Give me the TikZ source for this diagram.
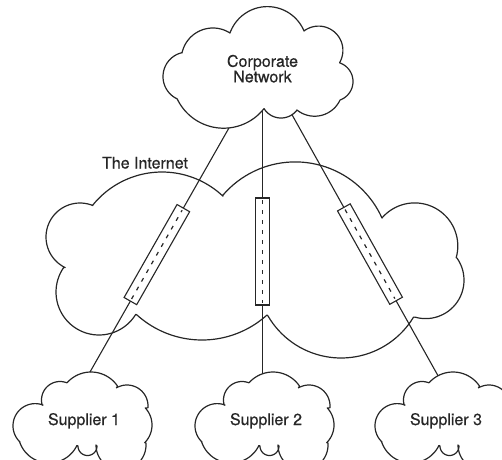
\documentclass[tikz,border=0pt]{standalone}
\usepackage{fontspec}
\setmainfont{TeX Gyre Heros}[FakeBold=0.5]

% one circular lobe of a cloud outline: centre (#1,#2), radius #3, from angle #4 to #5
\newcommand\lobe[5]{plot[domain=#4:#5, samples=40, variable=\t] ({#1+#3*cos(\t)},{#2+#3*sin(\t)})}
\newcommand\lobeto[5]{-- plot[domain=#4:#5, samples=40, variable=\t] ({#1+#3*cos(\t)},{#2+#3*sin(\t)})}

\tikzset{
  outline/.style={draw=black!85, line width=1.2pt, line join=round},
  txt/.style={font=\fontsize{16}{15.5}\selectfont, text=black!85, inner sep=0pt},
  link/.style={draw=black!85, line width=1.1pt},
  tube/.style={draw=black!85, line width=1.1pt, fill=white, rectangle,
    minimum width=107pt, minimum height=14.5pt, inner sep=0pt, sloped},
  tubedash/.style={draw=black!85, line width=1.2pt, dash pattern=on 4pt off 6pt,
    shorten <=3pt, shorten >=3pt},
  supplier cloud/.pic={
    \draw[outline] \lobe{35.2}{425.8}{22.2}{133.2}{290.6}
      \lobeto{60}{400}{18.5}{163.6}{291.3}
      \lobeto{91}{404}{32}{222.5}{325.8}
      \lobeto{127}{406}{21}{239.9}{365}
      \lobeto{127}{425}{25}{-43}{45}
      \lobeto{121}{445}{25}{-4.6}{180}
      \lobeto{87.5}{446}{9.5}{0}{180}
      \lobeto{49}{432}{31}{25.8}{161}
      -- cycle;
  }
}

\begin{document}
\begin{tikzpicture}[x=1pt, y=-1pt]
\clip (0,0) rectangle (502,459);

% the Internet
\draw[outline] \lobe{80}{237}{34}{115.8}{292.1}
  \lobeto{162}{261}{89}{219.1}{313.2}
  \lobeto{295.2}{257.1}{95.2}{220.7}{335.8}
  \lobeto{414.7}{246}{43.1}{220.6}{375.8}
  \lobeto{425.6}{280.2}{38.4}{-35.3}{106.1}
  \lobeto{341.1}{273.4}{84.6}{31.2}{149.8}
  \lobeto{202}{243}{97}{47.9}{132.1}
  \lobeto{99}{292}{43}{31.2}{215.2}
  -- cycle;

% corporate network
\draw[outline] \lobe{187.6}{76.6}{24.6}{115}{256.7}
  \lobeto{212.9}{59.6}{31.6}{192.1}{302.7}
  \lobeto{267.4}{46.3}{39.7}{199.6}{337.3}
  \lobeto{318.6}{50.4}{24.3}{233}{390.2}
  \lobeto{333.3}{81.5}{19.7}{-70.1}{70.1}
  \lobeto{314.6}{88.1}{28.1}{25.1}{128.8}
  \lobeto{281}{98}{20}{36.9}{148}
  \lobeto{223.6}{76.8}{51.4}{38.2}{154.5}
  -- cycle;

% supplier networks
\pic at (0,0) {supplier cloud};
\pic at (182,0) {supplier cloud};
\pic at (362,0) {supplier cloud};

% labels
\node[txt, align=center] (corp) at (262.5,68.7) {Corporate\\Network};
\node[txt, anchor=base] (inet) at (145,168.5) {The Internet};
\node[txt, anchor=base] (sup1) at (84,425) {Supplier 1};
\node[txt, anchor=base] (sup2) at (266,425) {Supplier 2};
\node[txt, anchor=base] (sup3) at (446,425) {Supplier 3};

% attachment points on the cloud outlines
\coordinate (c1) at (229,127.9);
\coordinate (c2) at (262.5,111);
\coordinate (c3) at (292,114.7);
\coordinate (s1) at (90,372);
\coordinate (s2) at (262.5,374);
\coordinate (s3) at (438,375.7);

% links with their tunnels
\draw[link] (c1) -- node[tube, pos=0.519] (t1) {} (s1);
\draw[link] (c2) -- node[tube, pos=0.534] (t2) {} (s2);
\draw[link] (c3) -- node[tube, pos=0.534] (t3) {} (s3);
\draw[tubedash] (t1.west) -- (t1.east);
\draw[tubedash] (t2.west) -- (t2.east);
\draw[tubedash] (t3.west) -- (t3.east);
\end{tikzpicture}
\end{document}
